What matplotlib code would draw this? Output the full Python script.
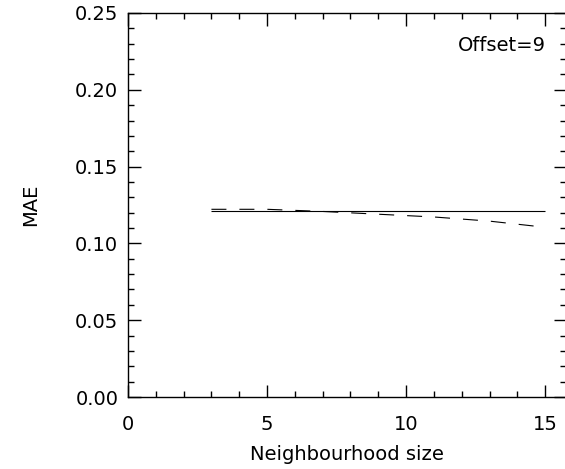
import matplotlib
matplotlib.use("Agg")
import matplotlib.pyplot as plt
from matplotlib.ticker import MultipleLocator, FormatStrFormatter

# Data
neigh_size = [3, 5, 7, 9, 11, 13, 15]
mae_solid = [0.1213, 0.1213, 0.1213, 0.1213, 0.1213, 0.1213, 0.1213]
mae_dashed = [0.1222, 0.1222, 0.1208, 0.1190, 0.1172, 0.1145, 0.1105]
x_ticks = [0, 5, 10, 15]
y_ticks = [0.00, 0.05, 0.10, 0.15, 0.20, 0.25]
annotation = "Offset=9"

plt.rcParams['font.family'] = ['DejaVu Sans']
fig = plt.figure(figsize=(5.65, 4.69), dpi=100)
ax = fig.add_axes([128 / 565, (469 - 397) / 469, (566 - 128) / 565, (397 - 13) / 469])

lw = 0.8
ax.plot(neigh_size, mae_solid, color='black', lw=lw, solid_capstyle='butt')
ax.plot(neigh_size, mae_dashed, color='black', lw=lw, linestyle=(0, (15 / lw / 1.39, 13 / lw / 1.39)),
        dash_capstyle='butt')

ax.set_xlim(0, 15.75)
ax.set_ylim(0, 0.25)
ax.set_xticks(x_ticks)
ax.set_yticks(y_ticks)
ax.xaxis.set_minor_locator(MultipleLocator(1))
ax.yaxis.set_minor_locator(MultipleLocator(0.01))
ax.yaxis.set_major_formatter(FormatStrFormatter('%.2f'))

for s in ax.spines.values():
    s.set_linewidth(1.0)
    s.set_color('black')

ax.tick_params(which='both', direction='in', top=True, right=True, width=1.0, colors='black')
ax.tick_params(which='major', length=9, labelsize=14, pad=7)
ax.tick_params(which='minor', length=4.5)
ax.tick_params(axis='x', which='major', pad=13)

ax.set_xlabel("Neighbourhood size", fontsize=14, labelpad=8)
ax.set_ylabel("MAE", fontsize=14, labelpad=25)

ax.text(0.955, 0.915, annotation, transform=ax.transAxes, ha='right', va='center', fontsize=14)

fig.savefig("out.png", dpi=100)
